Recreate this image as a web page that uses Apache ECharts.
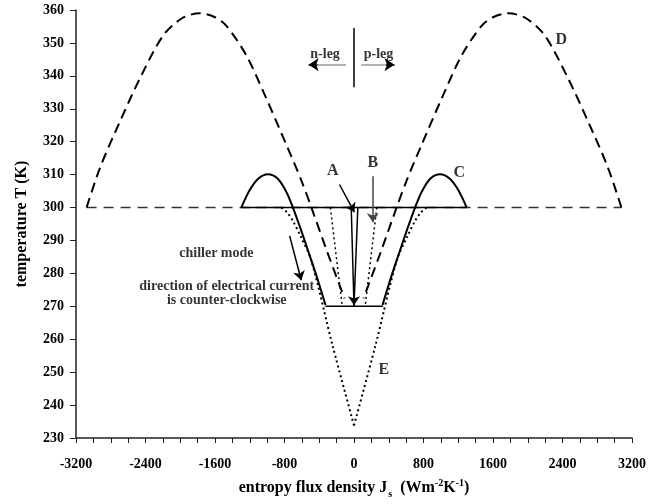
<!DOCTYPE html>
<html><head><meta charset="utf-8">
<script src="https://cdn.jsdelivr.net/npm/echarts@6/dist/echarts.min.js"></script>
<style>html,body{margin:0;padding:0;background:#fff}#c{width:649px;height:504px}</style>
</head><body><div id="c"></div>
<script>
// ---- data (entropy flux density J_s, temperature T) ----
const xRange = [-3200, 3200];
const yRange = [230, 360];
const curveDLeft = [[-3078,300],[-2925,312],[-2695,326.1],[-2465,339.2],[-2198,352.2],[-1980,357.5],[-1776,359],[-1600,357.8],[-1469,355.2],[-1239,346.2],[-1009,333.1],[-779,319.1],[-610,308.5],[-490,300],[-315,287],[-109,272.4]];
const curveDRight = [[3078,300],[2925,312],[2695,326.1],[2465,339.2],[2198,352.2],[1980,357.5],[1776,359],[1600,357.8],[1469,355.2],[1239,346.2],[1009,333.1],[779,319.1],[610,308.5],[490,300],[315,287],[109,272.4]];
const curveCLeft = [[-1297,300],[-1200,305.3],[-1100,308.8],[-991,310.1],[-880,308.8],[-780,304.8],[-703,300],[-610,293.2],[-511,285.5],[-420,278.3],[-328,270.4]];
const curveCRight = [[1297,300],[1200,305.3],[1100,308.8],[991,310.1],[880,308.8],[780,304.8],[703,300],[610,293.2],[511,285.5],[420,278.3],[328,270.4]];
const curveELeft = [[-837,300],[-770,298.5],[-700,295.8],[-610,291],[-492,284],[-244,257.8],[0,233.8]];
const curveERight = [[837,300],[770,298.5],[700,295.8],[610,291],[492,284],[244,257.8],[0,233.8]];
const ambientDashed = [[-3078,300],[3078,300]];
const ambientSolid = [[-1297,300],[1297,300]];
const coldSolid = [[-330,270],[335,270]];
const innerDotLeft = [[-272,300],[-135,270]];
const innerDotRight = [[262,300],[128,270]];
const curveA = [[-32,300],[0,270],[44,300]];
// annotation arrows: [from, to] in data units
const arrowA = [[-167,307],[4,298.6]];
const arrowB = [[216,309.5],[216,295.5]];
const arrowDown = [[0,277],[0,270.3]];
const arrowChiller = [[-741,291.4],[-607,277.9]];
const arrowNShaft = [[-92,343.4],[-440,343.4]];
const arrowPShaft = [[83,343.4],[390,343.4]];
const arrowNHead = [[-420,343.4],[-522,343.4]];
const arrowPHead = [[370,343.4],[466,343.4]];
const legDivider = [[0,336.5],[0,354.5]];
// text annotations
const letterNames = ['A','B','C','D','E'];
const letterX = [-243, 216, 1213, 2385, 343];
const letterT = [311, 313.5, 310.5, 350.8, 250.8];
const noteNames = ['n-leg','p-leg','chiller mode','direction of electrical current','is counter-clockwise'];
const noteX = [-333, 282, -1584, -1465, -1465];
const noteT = [346.6, 346.6, 286.1, 276.1, 271.9];

const FONT = 'Liberation Serif';
const line = (data, opt) => Object.assign({
  type:'line', data, showSymbol:false, symbol:'none', silent:true, animation:false,
  lineStyle:{color:'#000', width:2}
}, opt);
const dashed = {color:'#000', width:2, type:[10,6]};
const dotted = {color:'#000', width:2, type:[2,3]};
const arrowSeries = (pairs, color, sym, size) => ({
  type:'line', data:[], silent:true, animation:false,
  markLine:{silent:true, animation:false, symbol:sym, symbolSize:size,
    label:{show:false},
    lineStyle:{color, width:1.5, type:'solid'},
    emphasis:{disabled:true},
    data: pairs.map(p => [{coord:p[0]},{coord:p[1]}])}
});

const chart = echarts.init(document.getElementById('c'), null, {renderer:'canvas'});
chart.setOption({
  animation:false,
  backgroundColor:'#fff',
  grid:{left:76, right:16, top:10, bottom:66},
  xAxis:{type:'value', min:xRange[0], max:xRange[1], interval:800,
    axisLine:{onZero:false, lineStyle:{color:'#222', width:1.5}},
    axisTick:{length:5, lineStyle:{color:'#222'}},
    minorTick:{show:true, splitNumber:4, length:5, lineStyle:{color:'#222'}},
    splitLine:{show:false},
    axisLabel:{formatter:v=>String(v), color:'#000', fontFamily:FONT, fontWeight:'bold', fontSize:14, margin:19},
    name:'entropy flux density J{s|s}  (Wm{p|-2}K{p|-1})', nameLocation:'middle', nameGap:38,
    nameTextStyle:{color:'#000', fontFamily:FONT, fontWeight:'bold', fontSize:16,
      rich:{s:{fontSize:10, fontFamily:FONT, fontWeight:'bold', color:'#000', padding:[13,0,0,1]},
            p:{fontSize:10, fontFamily:FONT, fontWeight:'bold', color:'#000', padding:[0,0,9,0]}}}
  },
  yAxis:{type:'value', min:yRange[0], max:yRange[1], interval:10,
    axisLine:{show:true, onZero:false, lineStyle:{color:'#222', width:1.5}},
    axisTick:{show:true, length:6, lineStyle:{color:'#222'}},
    splitLine:{show:false},
    axisLabel:{color:'#000', fontFamily:FONT, fontWeight:'bold', fontSize:14, margin:12},
    name:'temperature T (K)', nameLocation:'middle', nameGap:46,
    nameTextStyle:{color:'#000', fontFamily:FONT, fontWeight:'bold', fontSize:16}
  },
  series:[
    line(ambientDashed, {lineStyle:{color:'#333', width:1.5, type:[10,7]}}),
    line(curveDLeft, {smooth:0.3, lineStyle:dashed}),
    line(curveDRight, {smooth:0.3, lineStyle:dashed}),
    line(curveELeft, {smooth:0.3, lineStyle:dotted}),
    line(curveERight, {smooth:0.3, lineStyle:dotted}),
    line(innerDotLeft, {lineStyle:{color:'#000', width:1.5, type:[2,3]}}),
    line(innerDotRight, {lineStyle:{color:'#000', width:1.5, type:[2,3]}}),
    line(ambientSolid, {lineStyle:{color:'#000', width:1.5}}),
    line(coldSolid, {lineStyle:{color:'#000', width:1.5}}),
    line(curveCLeft, {smooth:0.3, lineStyle:{color:'#000', width:2}}),
    line(curveCRight, {smooth:0.3, lineStyle:{color:'#000', width:2}}),
    line(curveA, {lineStyle:{color:'#000', width:1.5}}),
    arrowSeries([arrowA, arrowDown, arrowChiller], '#000', ['none','arrow'], 9),
    arrowSeries([arrowB], '#444', ['none','arrow'], 9),
    arrowSeries([arrowNShaft, arrowPShaft], '#999', ['none','none'], 0),
    arrowSeries([arrowNHead, arrowPHead], '#000', ['none','arrow'], 10),
    arrowSeries([legDivider], '#000', ['none','none'], 0),
    {type:'scatter', silent:true, animation:false, symbolSize:0,
      data: letterNames.map((n,i)=>({name:n, value:[letterX[i], letterT[i]]})),
      label:{show:true, position:'inside', formatter:p=>p.name, color:'#000', fontFamily:FONT, fontWeight:'bold', fontSize:16}},
    {type:'scatter', silent:true, animation:false, symbolSize:0,
      data: noteNames.map((n,i)=>({name:n, value:[noteX[i], noteT[i]]})),
      label:{show:true, position:'inside', formatter:p=>p.name, color:'#000', fontFamily:FONT, fontWeight:'bold', fontSize:14}}
  ]
});
</script></body></html>
